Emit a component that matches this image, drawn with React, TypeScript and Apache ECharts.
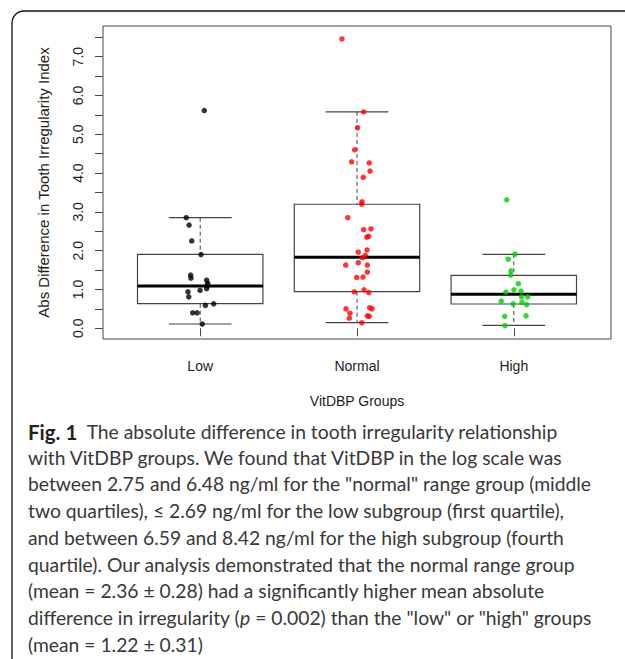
import React, { useEffect, useRef } from "react";
import * as echarts from "echarts";

const categories = ["Low", "Normal", "High"];

// Box statistics: [lower whisker, Q1, median, Q3, upper whisker]
const lowBox = [0.11, 0.634, 1.09, 1.907, 2.85];
const normalBox = [0.144, 0.943, 1.83, 3.196, 5.575];
const highBox = [0.077, 0.626, 0.876, 1.366, 1.907];

// Individual points (values) and their horizontal jitter
const lowValues = [5.61, 2.85, 2.66, 2.25, 1.9, 1.37, 1.29, 1.24, 1.16, 1.09, 1.02, 0.98, 0.94, 0.81, 0.59, 0.63, 0.4, 0.4, 0.11];
const lowJitter = [0.026, -0.089, -0.071, -0.054, 0.005, -0.061, -0.059, 0.041, 0.048, 0.045, 0.041, -0.001, -0.078, -0.073, 0.033, 0.086, -0.048, -0.02, 0.013];

const normalValues = [7.456, 5.575, 5.17, 4.6, 4.29, 4.26, 4.05, 3.89, 3.26, 3.2, 2.85, 2.54, 2.56, 2.35, 2.37, 2.02, 1.96, 1.88, 1.82, 1.63, 1.69, 1.63, 1.45, 1.32, 1.31, 0.94, 0.99, 0.92, 0.5, 0.53, 0.5, 0.39, 0.26, 0.32, 0.31, 0.14];
const normalJitter = [-0.096, 0.043, 0.004, -0.015, -0.034, 0.078, 0.083, 0.04, 0.032, 0.03, -0.059, 0.043, 0.089, 0.062, 0.075, 0.064, 0.008, 0.053, 0.036, -0.072, 0.008, 0.066, 0.066, 0.038, -0.002, -0.017, 0.045, 0.075, -0.07, 0.081, 0.096, -0.045, -0.049, 0.066, 0.078, 0.03];

const highValues = [3.31, 1.91, 1.78, 1.48, 1.37, 1.15, 0.99, 0.93, 0.96, 0.81, 0.81, 0.7, 0.67, 0.63, 0.61, 0.31, 0.32, 0.07];
const highJitter = [-0.045, 0.008, -0.035, -0.018, -0.02, 0.029, 0.001, -0.05, 0.046, 0.05, 0.089, -0.08, 0.052, -0.005, 0.082, -0.058, 0.078, -0.056];

const yTickValues = [0, 0.5, 1, 1.5, 2, 2.5, 3, 3.5, 4, 4.5, 5, 5.5, 6, 6.5, 7, 7.5];
const yLabelValues = [0, 1, 2, 3, 4, 5, 6, 7];

const captionLines = [
  "{b|Fig. 1}  The absolute difference in tooth irregularity relationship",
  "with VitDBP groups. We found that VitDBP in the log scale was",
  "between 2.75 and 6.48 ng/ml for the \"normal\" range group (middle",
  "two quartiles), ≤ 2.69 ng/ml for the low subgroup (first quartile),",
  "and between 6.59 and 8.42 ng/ml for the high subgroup (fourth",
  "quartile). Our analysis demonstrated that the normal range group",
  "(mean = 2.36 ± 0.28) had a significantly higher mean absolute",
  "difference in irregularity ({i|p} = 0.002) than the \"low\" or \"high\" groups",
  "(mean = 1.22 ± 0.31)",
];

const AXIS_FONT = "'Liberation Sans', Arial, Helvetica, sans-serif";
const CAPTION_FONT = "Lato, 'Open Sans', sans-serif";

export default function App() {
  const ref = useRef<HTMLDivElement>(null);

  useEffect(() => {
    if (!ref.current) return;
    const chart = echarts.init(ref.current, null, { renderer: "svg" });

    const boxes = [lowBox, normalBox, highBox].map((b, i) => [i + 1, ...b]);
    const mk = (vals: number[], jit: number[], g: number) =>
      vals.map((v, i) => [g + jit[i], v]);

    const captionGraphics = captionLines.map((line, i) => ({
      type: "text",
      left: 28,
      top: 421 + i * 26.7,
      silent: true,
      style: {
        text: line,
        fontSize: 19.3,
        fontFamily: CAPTION_FONT,
        fill: "#383838",
        rich: {
          b: { fontWeight: "bold", fontSize: 20.5, fontFamily: CAPTION_FONT, fill: "#222" },
          i: { fontStyle: "italic", fontSize: 19.3, fontFamily: CAPTION_FONT, fill: "#383838" },
        },
      },
    }));

    chart.setOption({
      animation: false,
      backgroundColor: "#fff",
      grid: {
        left: 103,
        top: 26,
        width: 508,
        height: 313,
        show: true,
        borderColor: "#444",
        borderWidth: 1,
        backgroundColor: "transparent",
      },
      xAxis: {
        type: "value",
        min: 0.38,
        max: 3.62,
        splitLine: { show: false },
        axisLine: { show: false },
        axisTick: {
          show: true,
          customValues: [1, 2, 3],
          length: 8,
          lineStyle: { color: "#444", width: 1 },
        },
        axisLabel: {
          customValues: [1, 2, 3],
          formatter: (v: number) => categories[Math.round(v) - 1] ?? "",
          fontSize: 14,
          fontFamily: AXIS_FONT,
          color: "#222",
          margin: 20,
        },
        name: "VitDBP Groups",
        nameLocation: "middle",
        nameGap: 55,
        nameTextStyle: { fontSize: 14, fontFamily: AXIS_FONT, color: "#222" },
      },
      yAxis: {
        type: "value",
        min: -0.276,
        max: 7.79,
        splitLine: { show: false },
        axisLine: { show: false },
        axisTick: {
          show: true,
          customValues: yTickValues,
          length: 8,
          lineStyle: { color: "#444", width: 1 },
        },
        axisLabel: {
          customValues: yLabelValues,
          rotate: 90,
          formatter: (v: number) => v.toFixed(1),
          fontSize: 14,
          fontFamily: AXIS_FONT,
          color: "#222",
          margin: 18,
        },
        name: "Abs Difference in Tooth Irregularity Index",
        nameLocation: "middle",
        nameRotate: 90,
        nameGap: 52,
        nameTextStyle: { fontSize: 15, fontFamily: AXIS_FONT, color: "#222" },
      },
      series: [
        {
          type: "custom",
          data: boxes,
          z: 2,
          silent: true,
          renderItem: (params: any, api: any) => {
            const x = api.value(0);
            const lo = api.value(1);
            const q1 = api.value(2);
            const med = api.value(3);
            const q3 = api.value(4);
            const hi = api.value(5);
            const pL = api.coord([x - 0.4, q3]);
            const pR = api.coord([x + 0.4, q1]);
            const cx = api.coord([x, 0])[0];
            const capL = api.coord([x - 0.2, 0])[0];
            const capR = api.coord([x + 0.2, 0])[0];
            const yLo = api.coord([x, lo])[1];
            const yHi = api.coord([x, hi])[1];
            const yMed = api.coord([x, med])[1];
            const stroke = "#444";
            return {
              type: "group",
              children: [
                { type: "line", shape: { x1: cx, y1: yHi, x2: cx, y2: pL[1] }, style: { stroke, lineWidth: 1, lineDash: [4, 3] } },
                { type: "line", shape: { x1: cx, y1: pR[1], x2: cx, y2: yLo }, style: { stroke, lineWidth: 1, lineDash: [4, 3] } },
                { type: "line", shape: { x1: capL, y1: yHi, x2: capR, y2: yHi }, style: { stroke, lineWidth: 1.2 } },
                { type: "line", shape: { x1: capL, y1: yLo, x2: capR, y2: yLo }, style: { stroke, lineWidth: 1.2 } },
                { type: "rect", shape: { x: pL[0], y: pL[1], width: pR[0] - pL[0], height: pR[1] - pL[1] }, style: { fill: "rgba(0,0,0,0)", stroke, lineWidth: 1.2 } },
                { type: "line", shape: { x1: pL[0], y1: yMed, x2: pR[0], y2: yMed }, style: { stroke: "#000", lineWidth: 3 } },
              ],
            };
          },
        },
        {
          type: "scatter",
          data: mk(lowValues, lowJitter, 1),
          symbolSize: 5.5,
          itemStyle: { color: "#000" },
          z: 5,
          silent: true,
        },
        {
          type: "scatter",
          data: mk(normalValues, normalJitter, 2),
          symbolSize: 5.5,
          itemStyle: { color: "#ff0000" },
          z: 5,
          silent: true,
        },
        {
          type: "scatter",
          data: mk(highValues, highJitter, 3),
          symbolSize: 5.5,
          itemStyle: { color: "#00cc00" },
          z: 5,
          silent: true,
        },
      ],
      graphic: [
        {
          type: "rect",
          silent: true,
          shape: { x: 12, y: 11, width: 900, height: 900, r: 12 },
          style: { fill: "none", stroke: "#111", lineWidth: 1.3 },
          z: 0,
        },
        ...captionGraphics,
      ],
    });

    return () => chart.dispose();
  }, []);

  return (
    <div
      ref={ref}
      style={{ position: "absolute", left: 0, top: 0, width: 625, height: 659, background: "#fff" }}
    />
  );
}
